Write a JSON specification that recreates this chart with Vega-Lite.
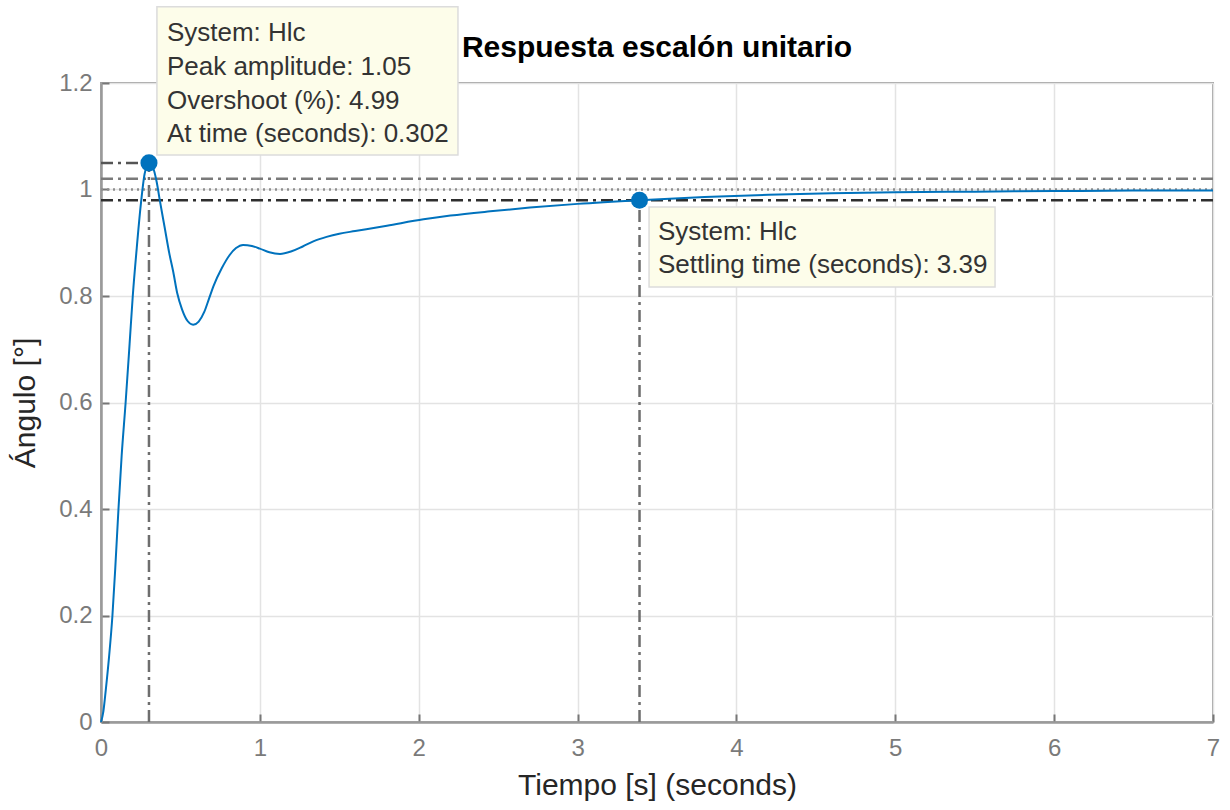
{
  "$schema": "https://vega.github.io/schema/vega-lite/v6.json",
  "width": 1112,
  "height": 639,
  "autosize": {"type": "none"},
  "padding": {"left": 101, "top": 83, "right": 17, "bottom": 88},
  "background": "white",
  "config": {
    "font": "Liberation Sans",
    "view": {"stroke": "#a0a0a0", "strokeWidth": 2},
    "axis": {
      "labelFont": "Liberation Sans",
      "labelFontSize": 24,
      "labelColor": "#7a7a7a",
      "labelFlush": false,
      "labelOverlap": false,
      "titleFont": "Liberation Sans",
      "titleFontSize": 30,
      "titleFontWeight": "normal",
      "titleColor": "#262626",
      "domainColor": "#9a9a9a",
      "domainWidth": 2.5,
      "tickColor": "#777777",
      "tickWidth": 2,
      "tickSize": -8,
      "gridColor": "#e3e3e3",
      "gridWidth": 1.5
    }
  },
  "title": {
    "text": "Respuesta escalón unitario",
    "font": "Liberation Sans",
    "fontSize": 30,
    "fontWeight": "bold",
    "color": "#000000",
    "anchor": "middle",
    "offset": 0,
    "dy": 57
  },
  "datasets": {
    "step": [
      {"t": 0, "y": 0},
      {"t": 0.015, "y": 0.02},
      {"t": 0.03, "y": 0.06},
      {"t": 0.05, "y": 0.12},
      {"t": 0.072, "y": 0.2},
      {"t": 0.09, "y": 0.29},
      {"t": 0.11, "y": 0.4},
      {"t": 0.13, "y": 0.5},
      {"t": 0.155, "y": 0.6},
      {"t": 0.18, "y": 0.71},
      {"t": 0.2, "y": 0.8},
      {"t": 0.225, "y": 0.89},
      {"t": 0.25, "y": 0.97},
      {"t": 0.275, "y": 1.03},
      {"t": 0.302, "y": 1.05},
      {"t": 0.325, "y": 1.043},
      {"t": 0.35, "y": 1.015},
      {"t": 0.37, "y": 0.98},
      {"t": 0.4, "y": 0.93},
      {"t": 0.43, "y": 0.88},
      {"t": 0.455, "y": 0.845},
      {"t": 0.48, "y": 0.805},
      {"t": 0.51, "y": 0.775},
      {"t": 0.545, "y": 0.753},
      {"t": 0.58, "y": 0.746},
      {"t": 0.615, "y": 0.752},
      {"t": 0.65, "y": 0.77},
      {"t": 0.68, "y": 0.795},
      {"t": 0.71, "y": 0.82},
      {"t": 0.76, "y": 0.852},
      {"t": 0.81, "y": 0.877},
      {"t": 0.85, "y": 0.89},
      {"t": 0.894, "y": 0.896},
      {"t": 0.95, "y": 0.894},
      {"t": 1.0, "y": 0.889},
      {"t": 1.06, "y": 0.882},
      {"t": 1.127, "y": 0.879},
      {"t": 1.2, "y": 0.884},
      {"t": 1.27, "y": 0.893},
      {"t": 1.34, "y": 0.903},
      {"t": 1.42, "y": 0.911},
      {"t": 1.5, "y": 0.917},
      {"t": 1.6, "y": 0.922},
      {"t": 1.8, "y": 0.932},
      {"t": 2.03, "y": 0.944},
      {"t": 2.2, "y": 0.951},
      {"t": 2.45, "y": 0.959},
      {"t": 2.7, "y": 0.966},
      {"t": 3.0, "y": 0.973},
      {"t": 3.39, "y": 0.98},
      {"t": 3.8, "y": 0.986},
      {"t": 4.2, "y": 0.99},
      {"t": 4.6, "y": 0.993},
      {"t": 5.0, "y": 0.995},
      {"t": 5.5, "y": 0.996},
      {"t": 6.0, "y": 0.997},
      {"t": 6.5, "y": 0.998},
      {"t": 7.0, "y": 0.998}
    ],
    "refs": [
      {"kind": "peak", "t0": 0, "t1": 0.302, "y0": 1.05, "y1": 1.05},
      {"kind": "peakTime", "t0": 0.302, "t1": 0.302, "y0": 0, "y1": 1.05},
      {"kind": "upper", "t0": 0, "t1": 7, "y0": 1.02, "y1": 1.02},
      {"kind": "steady", "t0": 0, "t1": 7, "y0": 1.0, "y1": 1.0},
      {"kind": "lower", "t0": 0, "t1": 7, "y0": 0.98, "y1": 0.98},
      {"kind": "settleTime", "t0": 3.39, "t1": 3.39, "y0": 0, "y1": 0.98}
    ],
    "points": [
      {"name": "peak", "t": 0.302, "y": 1.05},
      {"name": "settling", "t": 3.39, "y": 0.98}
    ],
    "tips": [
      {"name": "peak", "t0": 0.352, "t1": 2.247, "y0": 1.343, "y1": 1.065},
      {"name": "settling", "t0": 3.45, "t1": 5.628, "y0": 0.967, "y1": 0.817}
    ],
    "tipLines": [
      {"t": 0.415, "y": 1.294, "label": "System: Hlc"},
      {"t": 0.415, "y": 1.23, "label": "Peak amplitude: 1.05"},
      {"t": 0.415, "y": 1.166, "label": "Overshoot (%): 4.99"},
      {"t": 0.415, "y": 1.104, "label": "At time (seconds): 0.302"},
      {"t": 3.506, "y": 0.92, "label": "System: Hlc"},
      {"t": 3.506, "y": 0.858, "label": "Settling time (seconds): 3.39"}
    ]
  },
  "layer": [
    {
      "data": {"name": "refs"},
      "mark": {"type": "rule", "strokeWidth": 2.5},
      "encoding": {
        "x": {
          "field": "t0", "type": "quantitative",
          "scale": {"domain": [0, 7], "nice": false, "zero": false},
          "axis": {"values": [0, 1, 2, 3, 4, 5, 6, 7], "title": "Tiempo [s] (seconds)", "labelPadding": 22, "titlePadding": 10, "format": "~g"}
        },
        "x2": {"field": "t1"},
        "y": {
          "field": "y0", "type": "quantitative",
          "scale": {"domain": [0, 1.2], "nice": false, "zero": false},
          "axis": {"values": [0, 0.2, 0.4, 0.6, 0.8, 1, 1.2], "title": "Ángulo [°]", "labelPadding": 17, "titlePadding": 18, "format": "~g"}
        },
        "y2": {"field": "y1"},
        "color": {
          "field": "kind", "type": "nominal", "legend": null,
          "scale": {
            "domain": ["peak", "peakTime", "upper", "steady", "lower", "settleTime"],
            "range": ["#555555", "#6e6e6e", "#7a7a7a", "#8f8f8f", "#2e2e2e", "#6e6e6e"]
          }
        },
        "strokeDash": {
          "field": "kind", "type": "nominal", "legend": null,
          "scale": {
            "domain": ["peak", "peakTime", "upper", "steady", "lower", "settleTime"],
            "range": [[12, 5, 3, 5], [12, 5, 3, 5], [12, 5, 3, 5], [2, 4], [12, 5, 3, 5], [12, 5, 3, 5]]
          }
        }
      }
    },
    {
      "data": {"name": "step"},
      "mark": {"type": "line", "color": "#0072BD", "strokeWidth": 2, "interpolate": "monotone"},
      "encoding": {
        "x": {"field": "t", "type": "quantitative"},
        "y": {"field": "y", "type": "quantitative"}
      }
    },
    {
      "data": {"name": "points"},
      "mark": {"type": "point", "shape": "circle", "filled": true, "color": "#0072BD", "opacity": 1, "size": 290},
      "encoding": {
        "x": {"field": "t", "type": "quantitative"},
        "y": {"field": "y", "type": "quantitative"}
      }
    },
    {
      "data": {"name": "tips"},
      "mark": {"type": "rect", "fill": "#fdfdea", "stroke": "#dcdcdc", "strokeWidth": 1.5},
      "encoding": {
        "x": {"field": "t0", "type": "quantitative"},
        "x2": {"field": "t1"},
        "y": {"field": "y0", "type": "quantitative"},
        "y2": {"field": "y1"}
      }
    },
    {
      "data": {"name": "tipLines"},
      "mark": {"type": "text", "align": "left", "baseline": "middle", "font": "Liberation Sans", "fontSize": 26, "color": "#333333"},
      "encoding": {
        "x": {"field": "t", "type": "quantitative"},
        "y": {"field": "y", "type": "quantitative"},
        "text": {"field": "label", "type": "nominal"}
      }
    }
  ]
}
